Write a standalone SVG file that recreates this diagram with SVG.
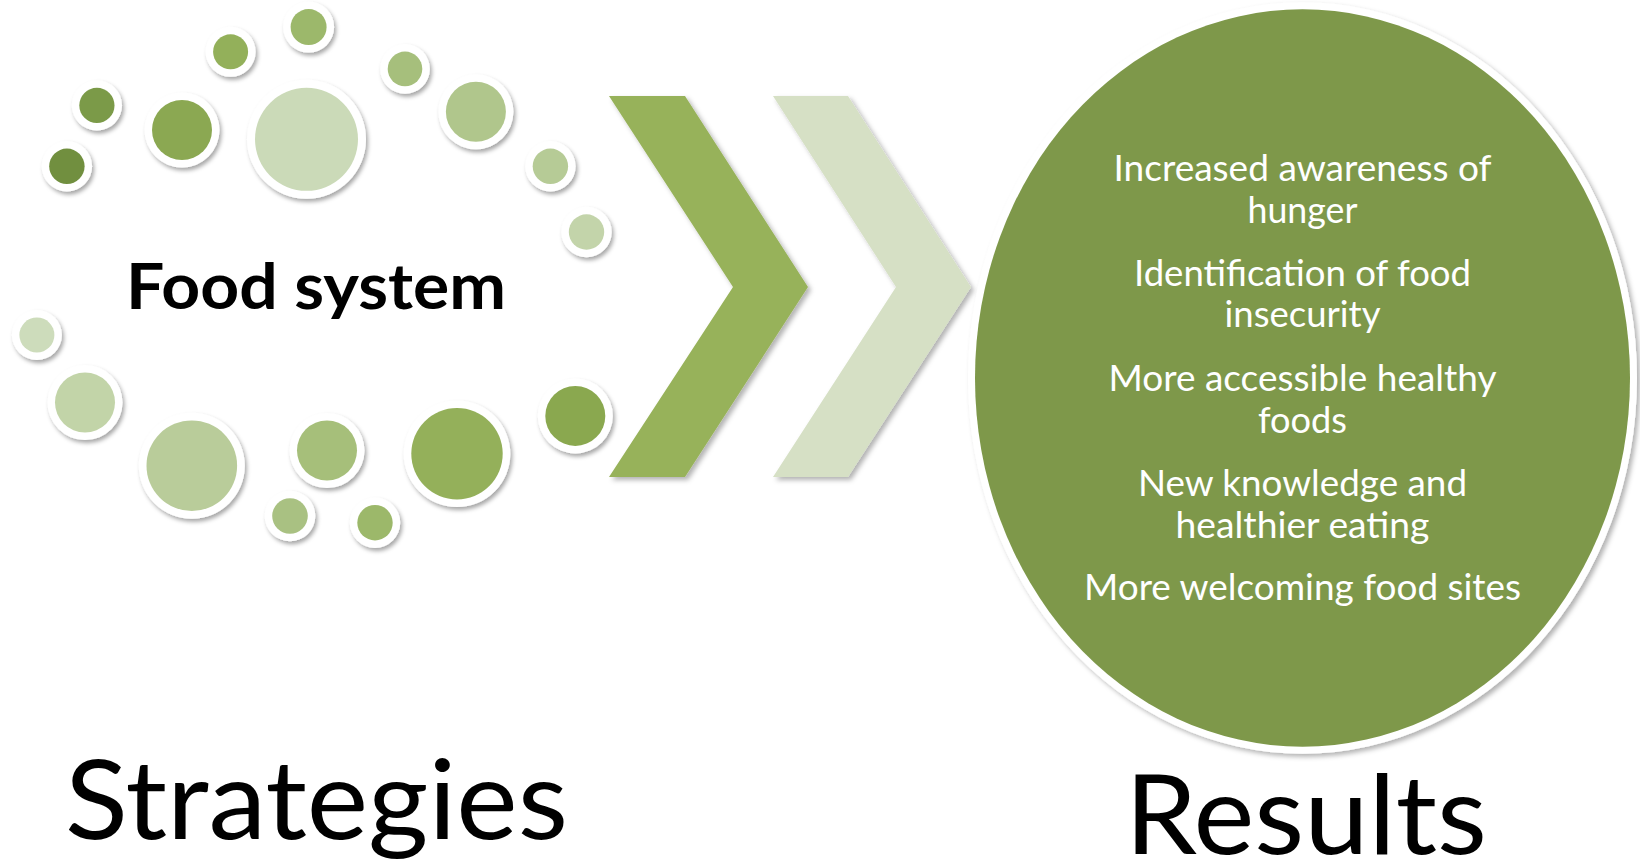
<svg xmlns="http://www.w3.org/2000/svg" width="1640" height="863" viewBox="0 0 1640 863">
<defs>
<filter id="sh" x="-20%" y="-20%" width="140%" height="140%">
<feDropShadow dx="2" dy="3" stdDeviation="2.2" flood-color="#000" flood-opacity="0.35"/>
</filter>
<filter id="shc" x="-10%" y="-10%" width="120%" height="120%">
<feDropShadow dx="3" dy="3" stdDeviation="2.5" flood-color="#000" flood-opacity="0.3"/>
</filter>
</defs>
<style>
.ring{fill:#ffffff;filter:url(#sh)}
.t{font-family:Lato,"Open Sans","Liberation Sans",sans-serif;}
.w{fill:#ffffff;font-size:37px;text-anchor:middle}
.big{fill:#000;font-size:110px}
</style>
<rect width="1640" height="863" fill="#ffffff"/>

<g id="bubbles">
<g id="b1"><circle class="ring" cx="308.6" cy="27.1" r="25.5"/><circle cx="308.6" cy="27.1" r="18" fill="#9cb86b"/></g>
<g id="b2"><circle class="ring" cx="230.6" cy="51.8" r="25"/><circle cx="230.6" cy="51.8" r="17.5" fill="#93b05a"/></g>
<g id="b3"><circle class="ring" cx="405" cy="68.9" r="24.8"/><circle cx="405" cy="68.9" r="17.3" fill="#a6bf7c"/></g>
<g id="b4"><circle class="ring" cx="96.9" cy="105.4" r="25.1"/><circle cx="96.9" cy="105.4" r="17.6" fill="#7b9a48"/></g>
<g id="b5"><circle class="ring" cx="182" cy="130" r="37.5"/><circle cx="182" cy="130" r="30" fill="#8ba852"/></g>
<g id="b6"><circle class="ring" cx="306.5" cy="139.3" r="59.5"/><circle cx="306.5" cy="139.3" r="51.5" fill="#cbdab8"/></g>
<g id="b7"><circle class="ring" cx="475.9" cy="111.8" r="37.5"/><circle cx="475.9" cy="111.8" r="30" fill="#b0c68c"/></g>
<g id="b8"><circle class="ring" cx="66.9" cy="166.3" r="25.2"/><circle cx="66.9" cy="166.3" r="17.7" fill="#718f3f"/></g>
<g id="b9"><circle class="ring" cx="550.4" cy="166.3" r="25.2"/><circle cx="550.4" cy="166.3" r="17.7" fill="#b6cb96"/></g>
<g id="b10"><circle class="ring" cx="586.5" cy="232" r="25.2"/><circle cx="586.5" cy="232" r="17.7" fill="#c3d4aa"/></g>
<g id="b11"><circle class="ring" cx="36.9" cy="335" r="25"/><circle cx="36.9" cy="335" r="17.5" fill="#cddcbb"/></g>
<g id="b12"><circle class="ring" cx="85" cy="402.5" r="37.5"/><circle cx="85" cy="402.5" r="30" fill="#c2d4a8"/></g>
<g id="b13"><circle class="ring" cx="191.8" cy="465.7" r="53"/><circle cx="191.8" cy="465.7" r="45.3" fill="#b9cc9a"/></g>
<g id="b14"><circle class="ring" cx="327" cy="450.5" r="37.5"/><circle cx="327" cy="450.5" r="30" fill="#a6bf7a"/></g>
<g id="b15"><circle class="ring" cx="457" cy="453.8" r="53.3"/><circle cx="457" cy="453.8" r="45.7" fill="#94b05a"/></g>
<g id="b16"><circle class="ring" cx="575.3" cy="415.9" r="37.5"/><circle cx="575.3" cy="415.9" r="30" fill="#8aa84f"/></g>
<g id="b17"><circle class="ring" cx="290" cy="516" r="25.3"/><circle cx="290" cy="516" r="17.8" fill="#a9c182"/></g>
<g id="b18"><circle class="ring" cx="375" cy="522.7" r="25.2"/><circle cx="375" cy="522.7" r="17.7" fill="#9cb86a"/></g>
</g>

<g id="food-system">
<text class="t" x="126" y="309" font-size="64" font-weight="700" fill="#000" textLength="380" lengthAdjust="spacingAndGlyphs">Food system</text>
</g>

<g id="connectors">
<polygon points="609,96 685,96 808,287 685,477 609,477 733,287" fill="#97b25a" filter="url(#shc)"/>
<polygon points="773,96 848,96 971,287 848,477 773,477 896,287" fill="#d6e0c5" filter="url(#shc)"/>
</g>

<g id="results-circle">
<ellipse cx="1302.5" cy="378" rx="334.5" ry="375.7" fill="#ffffff" filter="url(#shc)"/>
<ellipse cx="1302.5" cy="378" rx="327.5" ry="368.7" fill="#7e984a"/>
<text class="t w" x="1302.5" y="181" textLength="378" lengthAdjust="spacingAndGlyphs">Increased awareness of</text>
<text class="t w" x="1302.5" y="223" textLength="110" lengthAdjust="spacingAndGlyphs">hunger</text>
<text class="t w" x="1302.5" y="286" textLength="337" lengthAdjust="spacingAndGlyphs">Identification of food</text>
<text class="t w" x="1302.5" y="327" textLength="156" lengthAdjust="spacingAndGlyphs">insecurity</text>
<text class="t w" x="1302.5" y="391" textLength="388" lengthAdjust="spacingAndGlyphs">More accessible healthy</text>
<text class="t w" x="1302.5" y="433" textLength="89" lengthAdjust="spacingAndGlyphs">foods</text>
<text class="t w" x="1302.5" y="496" textLength="329" lengthAdjust="spacingAndGlyphs">New knowledge and</text>
<text class="t w" x="1302.5" y="538" textLength="254" lengthAdjust="spacingAndGlyphs">healthier eating</text>
<text class="t w" x="1302.5" y="600" textLength="437" lengthAdjust="spacingAndGlyphs">More welcoming food sites</text>
</g>

<g id="labels">
<text class="t big" x="65" y="839" textLength="503" lengthAdjust="spacingAndGlyphs">Strategies</text>
<text class="t big" x="1125" y="854" textLength="362" lengthAdjust="spacingAndGlyphs">Results</text>
</g>
</svg>
